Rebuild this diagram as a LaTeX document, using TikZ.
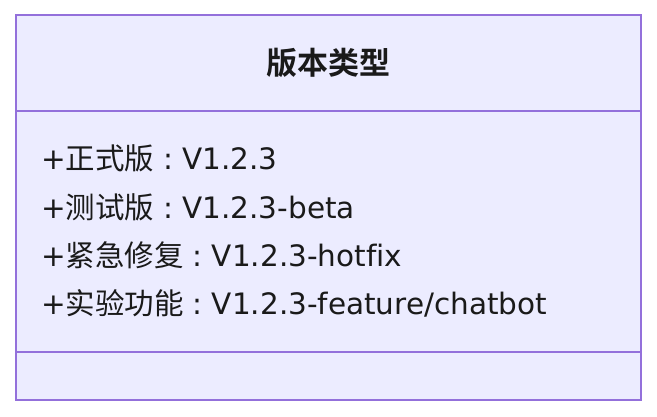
\documentclass[tikz,border=0pt]{standalone}
\usepackage{fontspec}
\setmainfont[Ligatures=NoCommon]{DejaVu Sans}
\newfontfamily\cjk{Noto Sans CJK SC}
\newfontfamily\cjkb{Noto Sans CJK SC Bold}
\newcommand{\fcolon}{\makebox[0.95em][c]{:}}
\definecolor{boxfill}{HTML}{ECECFF}
\definecolor{boxline}{HTML}{9370DB}
\definecolor{txt}{HTML}{1A1A1A}
\begin{document}
\begin{tikzpicture}[x=1pt,y=1pt,
  member/.style={anchor=base west,inner sep=0pt,text=txt,font=\fontsize{29.5}{29.5}\selectfont},
  title/.style={anchor=center,inner sep=0pt,text=txt,font=\fontsize{31}{31}\selectfont\cjkb},
  sep/.style={draw=boxline,line width=2pt}]
\useasboundingbox (0,0) rectangle (657,-416);
\fill[white] (0,0) rectangle (657,-416);
\draw[fill=boxfill,draw=boxline,line width=2pt] (16,-15) rectangle (641,-400);
\coordinate (h1) at (16,-111);
\coordinate (h2) at (641,-111);
\coordinate (b1) at (16,-352);
\coordinate (b2) at (641,-352);
\draw[sep] (h1) -- (h2);
\draw[sep] (b1) -- (b2);
\node[title] (t) at (328.5,-63) {版本类型};
\node[member] (m1) at (41,-169) {+{\cjk 正式版}\fcolon V1.2.3};
\node[member] (m2) at (41,-218) {+{\cjk 测试版}\fcolon V1.2.3-beta};
\node[member] (m3) at (41,-266) {+{\cjk 紧急修复}\fcolon V1.2.3-hotfix};
\node[member] (m4) at (41,-314) {+{\cjk 实验功能}\fcolon V1.2.3-feature/chatbot};
\end{tikzpicture}
\end{document}
